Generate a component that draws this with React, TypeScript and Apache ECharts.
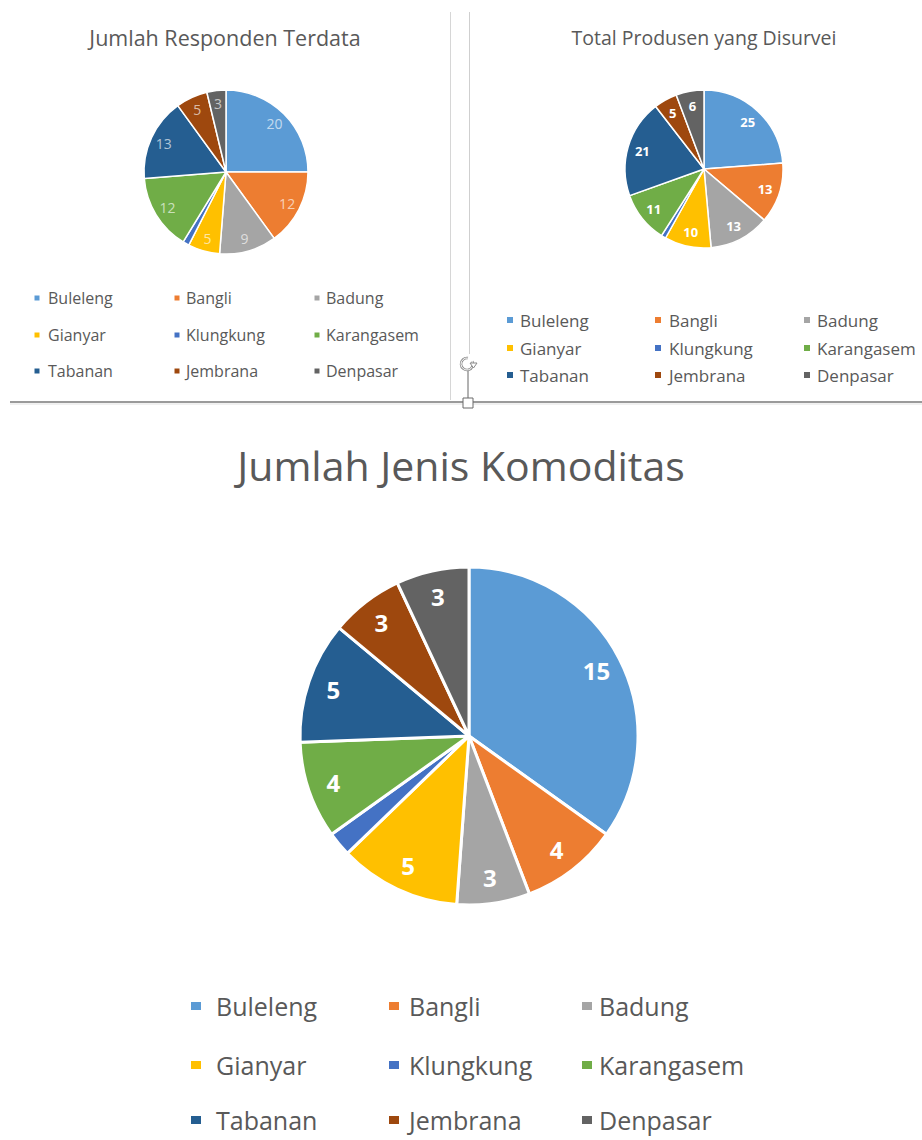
import React, { useEffect, useRef } from 'react';
import * as echarts from 'echarts';

const categories = ['Buleleng', 'Bangli', 'Badung', 'Gianyar', 'Klungkung', 'Karangasem', 'Tabanan', 'Jembrana', 'Denpasar'];
const sliceColors = ['#5B9BD5', '#ED7D31', '#A5A5A5', '#FFC000', '#4472C4', '#70AD47', '#255E91', '#9E480E', '#636363'];
const respondenValues = [20, 12, 9, 5, 1, 12, 13, 5, 3];
const produsenValues = [25, 13, 13, 10, 1, 11, 21, 5, 6];
const komoditasValues = [15, 4, 3, 5, 1, 4, 5, 3, 3];
const hiddenLabelCategories = ['Klungkung'];
const chartTitles = ['Jumlah Responden Terdata', 'Total Produsen yang Disurvei', 'Jumlah Jenis Komoditas'];
const legendColumns = [
  ['Buleleng', 'Gianyar', 'Tabanan'],
  ['Bangli', 'Klungkung', 'Jembrana'],
  ['Badung', 'Karangasem', 'Denpasar'],
];

const FONT = '"Open Sans", "Noto Sans", sans-serif';
const TEXT_COLOR = '#595959';

type Panel = {
  values: number[];
  title: string;
  titleX: number;
  titleY: number;
  titleSize: number;
  cx: number;
  cy: number;
  r: number;
  labelInnerRatio: number;
  borderWidth: number;
  labelSize: number;
  labelWeight: string;
  labelColor: string;
  iconX: number[];
  textX: number[];
  rowY: number[];
  iconW: number;
  iconH: number;
  legendSize: number;
  legendLineHeight: number;
};

const panels: Panel[] = [
  {
    values: respondenValues, title: chartTitles[0], titleX: 225, titleY: 37, titleSize: 21.5,
    cx: 226, cy: 172, r: 82, labelInnerRatio: 0.6, borderWidth: 1.5,
    labelSize: 14, labelWeight: 'normal', labelColor: 'rgba(255,255,255,0.65)',
    iconX: [36, 176, 316], textX: [47, 185, 325], rowY: [298, 335, 371], iconW: 7, iconH: 7,
    legendSize: 16, legendLineHeight: 19,
  },
  {
    values: produsenValues, title: chartTitles[1], titleX: 704, titleY: 37, titleSize: 19.5,
    cx: 704, cy: 169, r: 79, labelInnerRatio: 0.55, borderWidth: 1.5,
    labelSize: 13, labelWeight: 'bold', labelColor: '#ffffff',
    iconX: [509, 657, 806], textX: [519, 668, 816], rowY: [320, 348, 375], iconW: 8, iconH: 8,
    legendSize: 17, legendLineHeight: 20,
  },
  {
    values: komoditasValues, title: chartTitles[2], titleX: 461, titleY: 465, titleSize: 41,
    cx: 469, cy: 736, r: 169, labelInnerRatio: 0.66, borderWidth: 3,
    labelSize: 24, labelWeight: 'bold', labelColor: '#ffffff',
    iconX: [195, 393, 586], textX: [215, 408, 598], rowY: [1006, 1065, 1120], iconW: 12, iconH: 10,
    legendSize: 25, legendLineHeight: 26,
  },
];

function buildOption() {
  const series: any[] = [];
  const overlays: any[] = [];
  const legends: any[] = [];
  const graphics: any[] = [];

  panels.forEach((p) => {
    const data = categories.map((name, i) => ({
      name,
      value: p.values[i],
      itemStyle: { color: sliceColors[i] },
    }));
    series.push({
      type: 'pie',
      name: p.title,
      center: [p.cx, p.cy],
      radius: [0, p.r],
      startAngle: 90,
      clockwise: true,
      avoidLabelOverlap: false,
      label: { show: false },
      labelLine: { show: false },
      itemStyle: { borderColor: '#ffffff', borderWidth: p.borderWidth },
      emphasis: { disabled: true },
      data,
    });
    overlays.push({
      type: 'pie',
      name: p.title + ' labels',
      center: [p.cx, p.cy],
      radius: [p.r * p.labelInnerRatio, p.r],
      startAngle: 90,
      clockwise: true,
      silent: true,
      avoidLabelOverlap: false,
      legendHoverLink: false,
      labelLine: { show: false },
      itemStyle: { color: 'rgba(0,0,0,0)', borderWidth: 0 },
      emphasis: { disabled: true },
      label: {
        show: true,
        position: 'inside',
        formatter: '{c}',
        fontFamily: FONT,
        fontSize: p.labelSize,
        fontWeight: p.labelWeight,
        color: p.labelColor,
      },
      data: categories.map((name, i) => ({
        name,
        value: p.values[i],
        label: { show: hiddenLabelCategories.indexOf(name) < 0 },
      })),
    });

    graphics.push({
      type: 'text',
      x: p.titleX,
      y: p.titleY,
      style: {
        text: p.title,
        fill: TEXT_COLOR,
        font: `${p.titleSize}px ${FONT}`,
        textAlign: 'center',
        textVerticalAlign: 'middle',
      },
    });

    const lh = p.legendLineHeight;
    legendColumns.forEach((col, ci) => {
      col.forEach((name, ri) => {
        const colorIdx = categories.indexOf(name);
        const iconLeft = p.iconX[ci] - p.iconW / 2;
        legends.push({
          show: true,
          orient: 'horizontal',
          left: iconLeft,
          top: p.rowY[ri] - lh / 2,
          padding: 0,
          icon: 'rect',
          itemWidth: p.iconW,
          itemHeight: p.iconH,
          selectedMode: false,
          textStyle: {
            fontFamily: FONT,
            fontSize: p.legendSize,
            color: TEXT_COLOR,
            lineHeight: lh,
            padding: [0, 0, 0, Math.max(0, p.textX[ci] - (iconLeft + p.iconW + 5))],
          },
          data: [{ name, itemStyle: { color: sliceColors[colorIdx] } }],
        });
      });
    });
  });

  // dividers and selection handles
  graphics.push(
    { type: 'line', shape: { x1: 450.5, y1: 12, x2: 450.5, y2: 400 }, style: { stroke: '#d6d6d6', lineWidth: 1 } },
    { type: 'line', shape: { x1: 469.5, y1: 12, x2: 469.5, y2: 354 }, style: { stroke: '#cfcfcf', lineWidth: 1 } },
    { type: 'line', shape: { x1: 10, y1: 402, x2: 922, y2: 402 }, style: { stroke: '#9a9a9a', lineWidth: 2 } },
    { type: 'line', shape: { x1: 10, y1: 404, x2: 922, y2: 404 }, style: { stroke: '#e2e2e2', lineWidth: 1 } },
    { type: 'line', shape: { x1: 468, y1: 371, x2: 468, y2: 398 }, style: { stroke: '#666666', lineWidth: 1 } },
    { type: 'arc', shape: { cx: 467, cy: 364, r: 6, startAngle: -Math.PI * 0.15, endAngle: Math.PI * 1.55 }, style: { stroke: '#8a8a8a', lineWidth: 2.5, fill: 'none' } },
    { type: 'arc', shape: { cx: 467, cy: 364, r: 6, startAngle: -Math.PI * 0.15, endAngle: Math.PI * 1.55 }, style: { stroke: '#ffffff', lineWidth: 1, fill: 'none' } },
    { type: 'polygon', shape: { points: [[470, 363], [477, 363], [473.5, 368]] }, style: { fill: '#ffffff', stroke: '#8a8a8a', lineWidth: 1 } },
    { type: 'rect', shape: { x: 463, y: 398, width: 10, height: 10 }, style: { fill: '#ffffff', stroke: '#6a6a6a', lineWidth: 1 } },
  );

  return {
    animation: false,
    backgroundColor: '#ffffff',
    tooltip: { show: false },
    legend: legends,
    series: [...series, ...overlays],
    graphic: { elements: graphics },
  };
}

export default function App() {
  const ref = useRef<HTMLDivElement>(null);
  useEffect(() => {
    if (!ref.current) return;
    const chart = echarts.init(ref.current, undefined, { renderer: 'svg' });
    chart.setOption(buildOption());
    return () => chart.dispose();
  }, []);
  return (
    <div
      ref={ref}
      style={{ position: 'absolute', left: 0, top: 0, width: 922, height: 1140, background: '#fff' }}
    />
  );
}
